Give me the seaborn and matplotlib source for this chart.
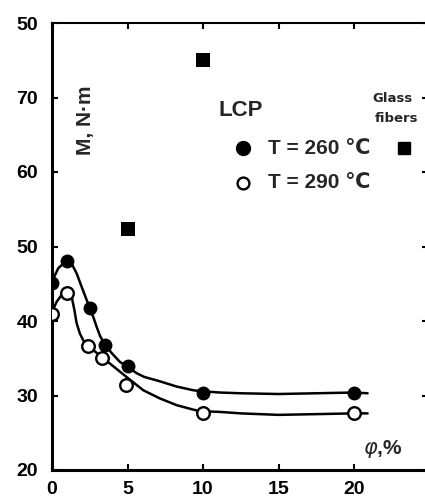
import matplotlib
matplotlib.use("Agg")
import matplotlib.pyplot as plt
import seaborn as sns

# Torque M (N·m) against filler content phi (%)
phi_260 = [0, 1, 2.5, 3.5, 5, 10, 20]
m_260 = [45.1, 48.0, 41.8, 36.8, 33.9, 30.4, 30.4]
phi_290 = [0, 1, 2.4, 3.3, 4.9, 10, 20]
m_290 = [40.9, 43.8, 36.6, 35.1, 31.4, 27.7, 27.6]
phi_glass = [5, 10]
m_glass = [52.3, 75.0]

# Hand-drawn trend curves through each LCP series
curve_260_x = [0, 0.42, 0.75, 0.97, 1.30, 1.63, 1.96, 2.30, 2.52, 2.74, 2.96,
               3.18, 3.51, 3.95, 4.5, 5.05, 5.6, 6.1, 7.15, 8.26, 9.36, 9.8,
               11.1, 12.5, 15, 17.5, 20, 20.9]
curve_260_y = [45.3, 47.1, 47.7, 48.1, 47.7, 46.4, 44.6, 42.8, 41.7, 40.5, 39.2,
               38.0, 36.8, 35.7, 34.5, 33.8, 33.0, 32.5, 31.9, 31.2, 30.7, 30.6,
               30.4, 30.3, 30.2, 30.3, 30.4, 30.3]
curve_290_x = [0, 0.31, 0.64, 0.97, 1.30, 1.48, 1.63, 1.85, 2.07, 2.4, 2.85,
               3.4, 3.95, 4.5, 5.05, 6.05, 7.15, 8.26, 9.36, 9.8, 11.1, 12.5,
               15, 17.5, 20, 20.9]
curve_290_y = [41.2, 42.6, 43.5, 43.9, 43.3, 41.5, 39.7, 38.3, 37.4, 36.8, 35.9,
               35.0, 34.1, 33.2, 32.3, 30.7, 29.6, 28.7, 28.1, 27.9, 27.8, 27.6,
               27.4, 27.5, 27.6, 27.6]

x_ticks = [0, 5, 10, 15, 20]
x_tick_labels = ["0", "5", "10", "15", "20"]
y_ticks = [20, 30, 40, 50, 60, 70, 80]
y_tick_labels = ["20", "30", "40", "50", "60", "70", "50"]

sns.set_style("ticks")
plt.rcParams["font.family"] = ["Liberation Sans", "DejaVu Sans"]

W, H = 425, 500
fig = plt.figure(figsize=(W / 100, H / 100), dpi=100)
ax = fig.add_axes([52 / W, 30 / H, (428 - 52) / W, (470 - 23) / H])


def fx(px):
    return px / W


def fy(py):
    return 1 - py / H


# Curves
for cx, cy in [(curve_260_x, curve_260_y), (curve_290_x, curve_290_y)]:
    sns.lineplot(x=cx, y=cy, sort=False, ax=ax, color="black", linewidth=1.8,
                 zorder=2, solid_joinstyle="round", solid_capstyle="round")

# Data points
sns.scatterplot(x=phi_260, y=m_260, ax=ax, marker="o", s=100, color="black",
                linewidth=0, zorder=3)
sns.scatterplot(x=phi_290, y=m_290, ax=ax, marker="o", s=82, facecolor="white",
                edgecolor="black", linewidth=1.7, zorder=3)
sns.scatterplot(x=phi_glass, y=m_glass, ax=ax, marker="s", s=88, color="black",
                linewidth=0, zorder=3)

ax.set_xlim(0, 24.9)
ax.set_ylim(20, 80)
ax.set_xticks(x_ticks)
ax.set_xticklabels(x_tick_labels, fontsize=14, fontweight="bold")
ax.set_yticks(y_ticks)
ax.set_yticklabels(y_tick_labels, fontsize=14, fontweight="bold")
ax.tick_params(axis="both", direction="in", length=4.5, width=1.5,
               top=True, right=True, colors="black")
ax.tick_params(axis="y", pad=10)
ax.tick_params(axis="x", pad=8)

for side in ["left", "bottom"]:
    ax.spines[side].set_linewidth(2.2)
ax.spines["top"].set_linewidth(1.5)
ax.spines["right"].set_visible(False)
for sp in ax.spines.values():
    sp.set_color("black")

# Axis titles
fig.text(fx(85), fy(120), "M, N·m", rotation=90, ha="center", va="center",
         fontsize=15, fontweight="bold")
fig.text(fx(363), fy(449), r"$\varphi$,%", ha="left", va="center",
         fontsize=15, fontweight="bold")

# Key
fig.text(fx(219), fy(110), "LCP", ha="left", va="center", fontsize=16,
         fontweight="bold")
ax.plot([fx(243)], [fy(148)], marker="o", markersize=10, color="black",
        linestyle="none", transform=fig.transFigure, clip_on=False)
fig.text(fx(268), fy(148), "T = 260 ℃", ha="left", va="center", fontsize=15,
         fontweight="bold")
ax.plot([fx(243)], [fy(183)], marker="o", markersize=8.5, markerfacecolor="white",
        markeredgecolor="black", markeredgewidth=1.7, linestyle="none",
        transform=fig.transFigure, clip_on=False)
fig.text(fx(268), fy(183), "T = 290 ℃", ha="left", va="center", fontsize=15,
         fontweight="bold")
fig.text(fx(372), fy(98), "Glass", ha="left", va="center", fontsize=9.5,
         fontweight="bold", family="DejaVu Sans")
fig.text(fx(375), fy(118), "fibers", ha="left", va="center", fontsize=9.5,
         fontweight="bold", family="DejaVu Sans")
ax.plot([fx(404)], [fy(148)], marker="s", markersize=9, color="black",
        linestyle="none", transform=fig.transFigure, clip_on=False)

fig.savefig("out.png", dpi=100)
